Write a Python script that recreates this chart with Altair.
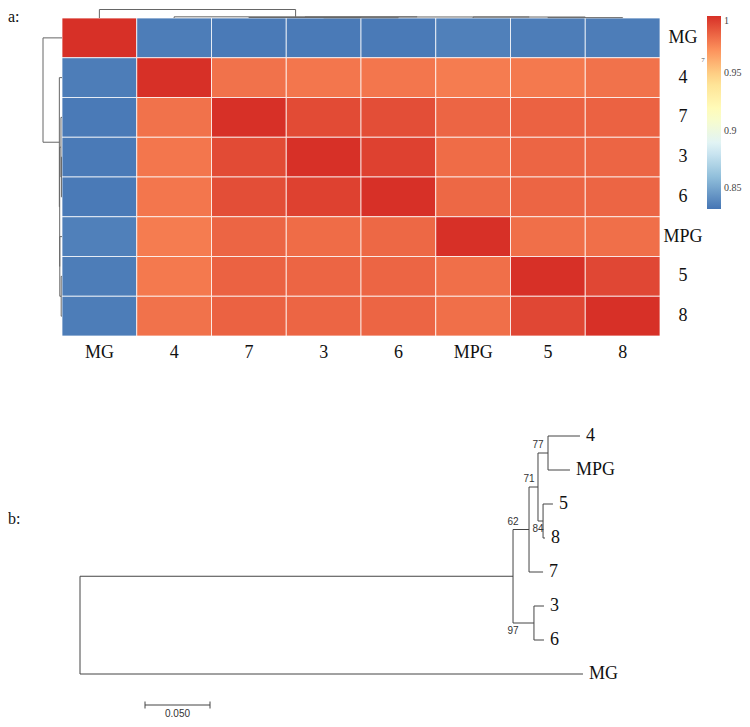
import altair as alt
import pandas as pd

# ---------------- data: panel a (similarity heatmap) ----------------
labels = ["MG", "4", "7", "3", "6", "MPG", "5", "8"]
similarity = [
    [1.000, 0.835, 0.834, 0.834, 0.834, 0.836, 0.835, 0.835],  # MG
    [0.835, 1.000, 0.980, 0.979, 0.979, 0.977, 0.978, 0.980],  # 4
    [0.834, 0.980, 1.000, 0.992, 0.991, 0.984, 0.985, 0.985],  # 7
    [0.834, 0.979, 0.992, 1.000, 0.995, 0.982, 0.984, 0.984],  # 3
    [0.834, 0.979, 0.991, 0.995, 1.000, 0.983, 0.984, 0.984],  # 6
    [0.836, 0.977, 0.984, 0.982, 0.983, 1.000, 0.981, 0.981],  # MPG
    [0.835, 0.978, 0.985, 0.984, 0.984, 0.981, 1.000, 0.993],  # 5
    [0.835, 0.980, 0.985, 0.984, 0.984, 0.981, 0.993, 1.000],  # 8
]
color_domain = [0.832, 1.0]
legend_values = [0.85, 0.9, 0.95, 1.0]
palette = ["#4575B4", "#91BFDB", "#E0F3F8", "#FFFFBF", "#FEE090", "#FC8D59", "#D73027"]

# hierarchical clustering merges (same for rows and columns)
dend_id = ["c36", "c58", "c7_36", "cMPG_58", "c_core", "c_rest", "c_root"]
dend_a = ["3", "5", "7", "MPG", "c7_36", "4", "MG"]
dend_b = ["6", "8", "c36", "c58", "cMPG_58", "c_core", "c_rest"]
dend_h = [0.005, 0.007, 0.009, 0.019, 0.020, 0.023, 0.165]

# ---------------- data: panel b (phylogenetic tree) ----------------
tree_nodes = ["root", "main", "n62", "n71", "n77", "n84", "n97",
              "4", "MPG", "5", "8", "7", "3", "6", "MG"]
tree_parent = ["", "root", "main", "n62", "n71", "n71", "main",
               "n77", "n77", "n84", "n84", "n62", "n97", "n97", "root"]
tree_depth = [0.0, 0.3331, 0.3454, 0.3523, 0.3600, 0.3562, 0.3492,
              0.3846, 0.3769, 0.3638, 0.3577, 0.3562, 0.3569, 0.3569, 0.3869]
tip_order = ["4", "MPG", "5", "8", "7", "3", "6", "MG"]
boot_nodes = ["n77", "n71", "n62", "n84", "n97"]
boot_values = ["77", "71", "62", "84", "97"]
boot_below = [False, False, False, True, True]
scale_bar = [0.05, 0.10]
scale_label = "0.050"

# ---------------- layout constants ----------------
W = 734
H1 = 392
H2 = 319
col_px, row_px = 74.75, 39.75
hm_left, hm_top = 54, 9
top_dend_px, left_dend_px = 8.5, 19
tree_x0, tree_unit = 72, 1300
tip_y0, tip_step = 35, 34

n = len(labels)
xs1 = alt.Scale(domain=[-hm_left / col_px, (W - hm_left) / col_px], nice=False, zero=False)
ys1 = alt.Scale(domain=[-hm_top / row_px, (H1 - hm_top) / row_px], nice=False, zero=False, reverse=True)


def X1(f):
    return alt.X(f, type="quantitative", scale=xs1, axis=None)


def Y1(f):
    return alt.Y(f, type="quantitative", scale=ys1, axis=None)


# heatmap cells
cells = []
for i, rl in enumerate(labels):
    for j, cl in enumerate(labels):
        cells.append(dict(row=rl, col=cl, x=j, x2=j + 1, y=i, y2=i + 1, v=similarity[i][j]))
cells = pd.DataFrame(cells)

heat = alt.Chart(cells).mark_rect(stroke="#ffffff", strokeWidth=1, strokeOpacity=0.75).encode(
    x=X1("x"), x2="x2", y=Y1("y"), y2="y2",
    color=alt.Color("v:Q", title=None,
                    scale=alt.Scale(domain=color_domain, range=palette, interpolate="rgb", nice=False, zero=False),
                    legend=alt.Legend(orient="none", legendX=699, legendY=7, direction="vertical",
                                      gradientLength=193, gradientThickness=14, gradientStrokeWidth=0,
                                      values=legend_values, format=".2~f", labelFont="Liberation Serif",
                                      labelFontSize=10, labelColor="#444", labelOffset=3, tickCount=4)),
)

# dendrograms
pos = {l: i + 0.5 for i, l in enumerate(labels)}
hgt = {l: 0.0 for l in labels}
for d, a, b, h in zip(dend_id, dend_a, dend_b, dend_h):
    pos[d] = (pos[a] + pos[b]) / 2
    hgt[d] = h
Hroot = max(dend_h)
top_size = top_dend_px / row_px
left_size = left_dend_px / col_px
top_seg, left_seg = [], []
for d, a, b, h in zip(dend_id, dend_a, dend_b, dend_h):
    yh = -h / Hroot * top_size
    top_seg.append(dict(x=pos[a], x2=pos[b], y=yh, y2=yh))
    xh = -h / Hroot * left_size
    left_seg.append(dict(y=pos[a], y2=pos[b], x=xh, x2=xh))
    for c in (a, b):
        top_seg.append(dict(x=pos[c], x2=pos[c], y=-hgt[c] / Hroot * top_size, y2=yh))
        left_seg.append(dict(y=pos[c], y2=pos[c], x=-hgt[c] / Hroot * left_size, x2=xh))
dend = alt.Chart(pd.DataFrame(top_seg + left_seg)).mark_rule(color="#666666", strokeWidth=1).encode(
    x=X1("x"), x2="x2", y=Y1("y"), y2="y2")

row_lab = pd.DataFrame(dict(t=labels, x=[n + 23 / col_px] * n, y=[i + 0.5 for i in range(n)]))
row_text = alt.Chart(row_lab).mark_text(align="center", baseline="middle", font="Liberation Serif",
                                        fontSize=18, color="#111").encode(x=X1("x"), y=Y1("y"), text="t")
col_lab = pd.DataFrame(dict(t=labels, x=[j + 0.5 for j in range(n)], y=[n + 17 / row_px] * n))
col_text = alt.Chart(col_lab).mark_text(align="center", baseline="middle", font="Liberation Serif",
                                        fontSize=18, color="#111").encode(x=X1("x"), y=Y1("y"), text="t")
tag_a = alt.Chart(pd.DataFrame(dict(t=["a:"], x=[-hm_left / col_px], y=[-hm_top / row_px]))).mark_text(
    align="left", baseline="top", font="Liberation Serif", fontSize=16, color="#111").encode(
    x=X1("x"), y=Y1("y"), text="t")
tiny = alt.Chart(pd.DataFrame(dict(t=["7"], x=[(695 - hm_left) / col_px], y=[(51 - hm_top) / row_px]))).mark_text(
    align="center", baseline="middle", font="Liberation Serif", fontSize=7, color="#555").encode(
    x=X1("x"), y=Y1("y"), text="t")

top = alt.layer(heat, dend, row_text, col_text, tag_a, tiny).properties(width=W, height=H1)

# ---------------- tree panel ----------------
xs2 = alt.Scale(domain=[-tree_x0 / tree_unit, (W - tree_x0) / tree_unit], nice=False, zero=False)
ys2 = alt.Scale(domain=[-tip_y0 / tip_step, (H2 - tip_y0) / tip_step], nice=False, zero=False, reverse=True)


def X2(f):
    return alt.X(f, type="quantitative", scale=xs2, axis=None)


def Y2(f):
    return alt.Y(f, type="quantitative", scale=ys2, axis=None)


depth = dict(zip(tree_nodes, tree_depth))
parent = dict(zip(tree_nodes, tree_parent))
children = {}
for nd, p in parent.items():
    if p:
        children.setdefault(p, []).append(nd)
ypos = {t: i for i, t in enumerate(tip_order)}


def gety(nd):
    if nd not in ypos:
        ys = [gety(c) for c in children[nd]]
        ypos[nd] = sum(ys) / len(ys)
    return ypos[nd]


for nd in tree_nodes:
    gety(nd)
segs = []
for nd in tree_nodes:
    p = parent[nd]
    if p:
        segs.append(dict(x=depth[p], x2=depth[nd], y=ypos[nd], y2=ypos[nd]))
    if nd in children:
        cy = [ypos[c] for c in children[nd]]
        segs.append(dict(x=depth[nd], x2=depth[nd], y=min(cy), y2=max(cy)))
# scale bar
sb_y = (304 - tip_y0) / tip_step
tick = 3.5 / tip_step
segs.append(dict(x=scale_bar[0], x2=scale_bar[1], y=sb_y, y2=sb_y))
for sx in scale_bar:
    segs.append(dict(x=sx, x2=sx, y=sb_y - tick, y2=sb_y + tick))
tree_lines = alt.Chart(pd.DataFrame(segs)).mark_rule(color="#444444", strokeWidth=1).encode(
    x=X2("x"), x2="x2", y=Y2("y"), y2="y2")

tips = pd.DataFrame(dict(t=tip_order, x=[depth[t] for t in tip_order], y=[ypos[t] for t in tip_order]))
tip_text = alt.Chart(tips).mark_text(align="left", baseline="middle", dx=6, font="Liberation Serif",
                                     fontSize=18, color="#111").encode(x=X2("x"), y=Y2("y"), text="t")

boot = pd.DataFrame(dict(t=boot_values, x=[depth[parent[b]] for b in boot_nodes],
                         y=[ypos[b] for b in boot_nodes], below=boot_below))
boot_up = alt.Chart(boot[~boot.below]).mark_text(align="center", baseline="middle", dy=-8,
                                                  font="Liberation Sans", fontSize=10, color="#333").encode(
    x=X2("x"), y=Y2("y"), text="t")
boot_dn = alt.Chart(boot[boot.below]).mark_text(align="center", baseline="middle", dy=8,
                                                 font="Liberation Sans", fontSize=10, color="#333").encode(
    x=X2("x"), y=Y2("y"), text="t")
sb_text = alt.Chart(pd.DataFrame(dict(t=[scale_label], x=[sum(scale_bar) / 2],
                                      y=[(313 - tip_y0) / tip_step]))).mark_text(
    align="center", baseline="middle", font="Liberation Sans", fontSize=10, color="#333").encode(
    x=X2("x"), y=Y2("y"), text="t")
tag_b = alt.Chart(pd.DataFrame(dict(t=["b:"], x=[-tree_x0 / tree_unit], y=[(118 - tip_y0) / tip_step]))).mark_text(
    align="left", baseline="middle", font="Liberation Serif", fontSize=16, color="#111").encode(
    x=X2("x"), y=Y2("y"), text="t")

bottom = alt.layer(tree_lines, tip_text, boot_up, boot_dn, sb_text, tag_b).properties(width=W, height=H2)

chart = alt.vconcat(top, bottom, spacing=0, bounds="flush").properties(
    padding=0, background="white").configure_view(stroke=None, strokeWidth=0)

chart.save("out.html", embed_options={"renderer": "svg", "actions": False})
